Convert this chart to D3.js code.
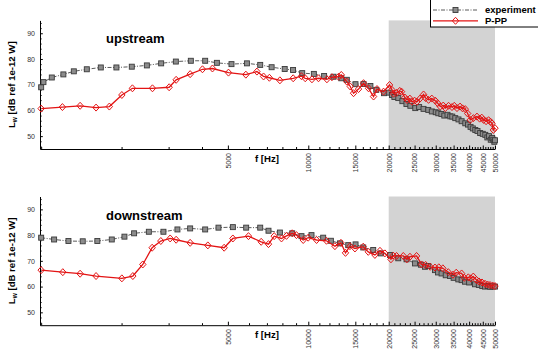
<!DOCTYPE html>
<html>
<head>
<meta charset="utf-8">
<script src="https://cdn.jsdelivr.net/npm/d3@7"></script>
<style>
  body { margin: 0; background: #fff; }
  svg { display: block; font-family: "Liberation Sans", Arial, Helvetica, sans-serif; }
</style>
</head>
<body>
<svg id="chart" width="538" height="349"></svg>
<script>
// [frequency Hz, Lw dB]
const upstreamExp = [
  [1000, 69.0], [1020, 71.0], [1096, 72.8], [1211, 74.0], [1325, 75.2], [1482, 76.0],
  [1672, 76.7], [1913, 76.7], [2184, 77.0], [2487, 77.5], [2813, 78.3], [3193, 79.0],
  [3633, 79.3], [4111, 79.3], [4548, 78.5], [5158, 78.0], [5892, 78.3], [6607, 77.7],
  [7290, 76.8], [8160, 76.1], [8770, 75.7], [9490, 74.5], [10490, 74.2], [11460, 73.4],
  [12430, 73.1], [13290, 72.5], [13940, 71.9], [15020, 70.2], [16100, 70.3], [17080, 69.5],
  [17970, 68.0], [19200, 66.7], [20000, 66.9], [20570, 66.0], [21000, 65.2], [21720, 64.8],
  [22500, 63.6], [23300, 62.5], [24100, 61.8], [25150, 60.9], [26000, 61.3], [27000, 60.6],
  [28130, 60.2], [29000, 59.6], [30000, 59.3], [30670, 58.9], [31500, 58.6], [32300, 58.0],
  [33200, 58.3], [34000, 57.7], [34600, 57.6], [35500, 57.0], [36500, 56.5], [37500, 55.8],
  [38700, 55.0], [39600, 54.5], [40500, 53.6], [41300, 53.0], [42190, 52.4], [43000, 52.0],
  [44000, 51.2], [45000, 50.9], [45990, 50.5], [46800, 49.5], [47500, 50.0], [48200, 48.6],
  [48800, 49.3], [49280, 48.6], [49700, 47.8], [50000, 48.4]
]
const upstreamPPP = [
  [1000, 60.7], [1201, 61.3], [1399, 61.8], [1605, 61.1], [1800, 61.5], [2005, 66.0],
  [2196, 68.6], [2610, 68.6], [3014, 69.0], [3201, 71.9], [3612, 74.1], [4016, 76.0],
  [4378, 76.3], [5026, 74.7], [5838, 73.9], [6421, 75.1], [6800, 73.2], [7150, 72.7],
  [7829, 71.7], [8780, 72.5], [9431, 73.3], [9740, 72.5], [10320, 72.1], [10920, 72.5],
  [11740, 72.1], [12260, 72.9], [12980, 73.1], [13290, 73.8], [13940, 71.2], [14360, 69.3],
  [14770, 66.7], [15420, 68.3], [16100, 70.6], [16810, 68.6], [17550, 65.4], [18080, 68.3],
  [19130, 67.3], [20150, 69.9], [20570, 68.0], [20860, 66.5], [21400, 66.8], [22000, 67.6],
  [22340, 67.3], [23000, 65.0], [23410, 64.1], [24000, 64.6], [24440, 63.4], [25000, 63.8],
  [25520, 63.4], [26200, 64.6], [27010, 66.2], [27500, 64.8], [28200, 64.1], [29000, 64.6],
  [29880, 63.8], [30500, 62.8], [31200, 61.5], [32000, 61.9], [32580, 60.9], [33500, 61.8],
  [34510, 61.3], [35200, 61.8], [36030, 60.9], [37000, 61.5], [37800, 60.8], [38700, 60.5],
  [39500, 58.8], [40400, 56.3], [41500, 57.0], [42800, 57.6], [43800, 56.8], [44600, 57.2],
  [45320, 56.3], [46300, 55.8], [47300, 56.2], [48100, 55.6], [48720, 55.0], [49300, 52.4],
  [50000, 53.1]
]
const downstreamExp = [
  [1000, 79.0], [1118, 78.3], [1265, 77.7], [1431, 77.6], [1623, 77.7], [1838, 78.3],
  [2050, 79.4], [2228, 80.7], [2530, 81.3], [2869, 81.3], [3237, 82.2], [3612, 82.6],
  [4111, 82.2], [4611, 82.9], [5220, 83.1], [5854, 82.9], [6607, 82.9], [7096, 81.7],
  [7829, 81.0], [8706, 80.7], [9431, 79.6], [10280, 80.0], [11370, 79.0], [12150, 77.8],
  [13140, 76.8], [14110, 76.1], [15030, 76.4], [16060, 75.2], [17500, 74.2], [18700, 72.9],
  [20220, 72.3], [21720, 71.0], [23320, 70.6], [25080, 69.0], [26400, 68.5], [27340, 67.7],
  [28130, 68.0], [29800, 66.4], [30600, 65.5], [31550, 65.1], [32700, 64.4], [33930, 64.1],
  [35000, 63.4], [36440, 62.8], [37500, 62.5], [38600, 61.9], [40000, 61.6], [42080, 60.9],
  [43500, 60.6], [44800, 60.2], [45870, 60.0], [47000, 60.2], [48000, 59.9], [49000, 60.1],
  [50000, 60.0]
]
const downstreamPPP = [
  [1000, 66.4], [1205, 65.6], [1399, 65.0], [1605, 64.1], [2005, 63.2], [2204, 64.1],
  [2401, 68.6], [2603, 75.1], [2805, 77.7], [3040, 78.7], [3201, 78.2], [3612, 77.0],
  [4207, 76.0], [4842, 75.1], [5220, 78.7], [5972, 79.6], [6663, 77.4], [7096, 76.5],
  [7453, 79.6], [7937, 78.7], [8288, 79.7], [8706, 80.7], [9030, 80.0], [9572, 78.1],
  [9992, 79.0], [10740, 78.1], [11700, 77.8], [12580, 75.7], [13250, 77.0], [13780, 73.1],
  [14320, 75.7], [14950, 74.8], [16060, 75.5], [16770, 73.5], [17760, 72.3], [18550, 73.9],
  [19360, 72.9], [20390, 70.6], [20800, 72.0], [21400, 71.9], [22680, 71.9], [23400, 70.6],
  [24020, 71.6], [25430, 71.9], [26550, 68.6], [27500, 68.4], [28600, 67.7], [29800, 67.4],
  [30800, 67.5], [31900, 67.1], [33430, 65.6], [34800, 64.6], [35800, 65.4], [37490, 65.1],
  [38400, 63.4], [39720, 63.6], [40600, 63.2], [41470, 63.9], [42600, 62.6], [43560, 62.0],
  [44700, 61.6], [45870, 61.1], [46900, 60.8], [47890, 60.6], [49000, 60.4], [50000, 60.2]
]

const xMajorTicks = [5000, 10000, 15000, 20000, 25000, 30000, 35000, 40000, 45000, 50000]
const yMajorTicks = [50, 60, 70, 80, 90]
const shadedBand = [20000, 50000]
const seriesNames = ['experiment', 'P-PP']

const EXP_LINE = '#5a5a5a'
const EXP_FILL = '#8c8c8c'
const EXP_STROKE = '#3a3a3a'
const RED = '#e31414'
const diamond = 'M0,-3.5L3.2,0L0,3.5L-3.2,0Z'

const svg = d3.select('#chart')
const x = d3.scaleLog().domain([990, 50000]).range([40, 495])

const panels = [
  {title: 'upstream', exp: upstreamExp, ppp: upstreamPPP, top: 20.4, bottom: 149, titleY: 42.5},
  {title: 'downstream', exp: downstreamExp, ppp: downstreamPPP, top: 196.5, bottom: 325.2, titleY: 219.5},
]

function drawSeries(g, data, y, isExp) {
  const line = d3.line().x((d) => x(d[0])).y((d) => y(d[1]))
  g.append('path')
    .datum(data)
    .attr('d', line)
    .attr('fill', 'none')
    .attr('stroke', isExp ? EXP_LINE : RED)
    .attr('stroke-width', isExp ? 1 : 1.3)
    .attr('stroke-dasharray', isExp ? '4,1.5,1,1.5' : null)
  if (isExp) {
    g.selectAll(null).data(data).enter()
      .append('rect')
      .attr('x', (d) => x(d[0]) - 2.5)
      .attr('y', (d) => y(d[1]) - 2.5)
      .attr('width', 5).attr('height', 5)
      .attr('fill', EXP_FILL)
      .attr('stroke', EXP_STROKE)
      .attr('stroke-width', 0.9)
  } else {
    g.selectAll(null).data(data).enter()
      .append('path')
      .attr('d', diamond)
      .attr('transform', (d) => `translate(${x(d[0])},${y(d[1])})`)
      .attr('fill', 'none')
      .attr('stroke', RED)
      .attr('stroke-width', 1)
  }
}

panels.forEach((p) => {
  const y = d3.scaleLinear().domain([45, 95]).range([p.bottom, p.top])
  const g = svg.append('g')

  g.append('rect')
    .attr('x', x(shadedBand[0]))
    .attr('y', y(95))
    .attr('width', x(shadedBand[1]) - x(shadedBand[0]))
    .attr('height', y(45) - y(95))
    .attr('fill', '#d3d3d3')

  // minor ticks
  const xMinor = d3.range(1000, 50001, 1000).filter((v) => !xMajorTicks.includes(v))
  g.append('g')
    .attr('transform', `translate(0,${p.bottom})`)
    .call(d3.axisBottom(x).tickValues(xMinor).tickSizeInner(-2).tickSizeOuter(0).tickFormat(''))
    .call((a) => a.select('.domain').remove())
  const yMinor = d3.range(46, 95, 2).filter((v) => !yMajorTicks.includes(v))
  g.append('g')
    .attr('transform', 'translate(40,0)')
    .call(d3.axisLeft(y).tickValues(yMinor).tickSizeInner(-1.6).tickSizeOuter(0).tickFormat(''))
    .call((a) => a.select('.domain').remove())

  const xAxis = g.append('g')
    .attr('transform', `translate(0,${p.bottom})`)
    .call(d3.axisBottom(x).tickValues(xMajorTicks).tickSizeInner(-3.5).tickSizeOuter(0)
      .tickFormat(d3.format('d')))
  xAxis.selectAll('text')
    .attr('transform', 'rotate(-90)')
    .attr('x', -4).attr('y', 0).attr('dy', '0.33em')
    .attr('text-anchor', 'end')
    .attr('font-size', 7).attr('fill', '#333')
    .attr('font-family', '"Liberation Sans", Arial, sans-serif')

  const yAxis = g.append('g')
    .attr('transform', 'translate(40,0)')
    .call(d3.axisLeft(y).tickValues(yMajorTicks).tickSizeInner(-2.8).tickSizeOuter(0).tickPadding(5))
  yAxis.selectAll('text')
    .attr('font-size', 7).attr('fill', '#333')
    .attr('font-family', '"Liberation Sans", Arial, sans-serif')

  svg.selectAll('.domain').attr('stroke', '#000')

  drawSeries(g, p.exp, y, true)
  drawSeries(g, p.ppp, y, false)

  g.append('text')
    .attr('x', 106).attr('y', p.titleY)
    .attr('font-size', 13).attr('font-weight', 'bold')
    .text(p.title)

  g.append('text')
    .attr('x', 267).attr('y', p.bottom + 13)
    .attr('text-anchor', 'middle')
    .attr('font-size', 9.6).attr('font-weight', 'bold')
    .text('f [Hz]')

  const yl = g.append('text')
    .attr('transform', `translate(15,${(p.top + p.bottom) / 2}) rotate(-90)`)
    .attr('text-anchor', 'middle')
    .attr('font-size', 9.6).attr('font-weight', 'bold')
  yl.append('tspan').text('L')
  yl.append('tspan').attr('font-size', 6.5).attr('dy', 2).text('w')
  yl.append('tspan').attr('dy', -2).text(' [dB ref 1e-12 W]')
})

// legend
const lg = svg.append('g')
lg.append('rect')
  .attr('x', 430.5).attr('y', -1).attr('width', 115).attr('height', 28)
  .attr('fill', '#fff').attr('stroke', '#000').attr('stroke-width', 1)
const legendRows = [{y: 10, isExp: true}, {y: 20.8, isExp: false}]
legendRows.forEach((r, i) => {
  lg.append('line')
    .attr('x1', 433).attr('x2', 478).attr('y1', r.y).attr('y2', r.y)
    .attr('stroke', r.isExp ? EXP_LINE : RED)
    .attr('stroke-width', r.isExp ? 1 : 1.3)
    .attr('stroke-dasharray', r.isExp ? '4,1.5,1,1.5' : null)
  if (r.isExp) {
    lg.append('rect').attr('x', 453).attr('y', r.y - 2.5).attr('width', 5).attr('height', 5)
      .attr('fill', EXP_FILL).attr('stroke', EXP_STROKE).attr('stroke-width', 0.9)
  } else {
    lg.append('path').attr('d', diamond).attr('transform', `translate(455.5,${r.y})`)
      .attr('fill', 'none').attr('stroke', RED)
  }
  lg.append('text')
    .attr('x', 485).attr('y', r.y + (r.isExp ? 3 : 3.6))
    .attr('font-size', 9.5).attr('font-weight', 'bold')
    .text(seriesNames[i])
})
</script>
</body>
</html>
